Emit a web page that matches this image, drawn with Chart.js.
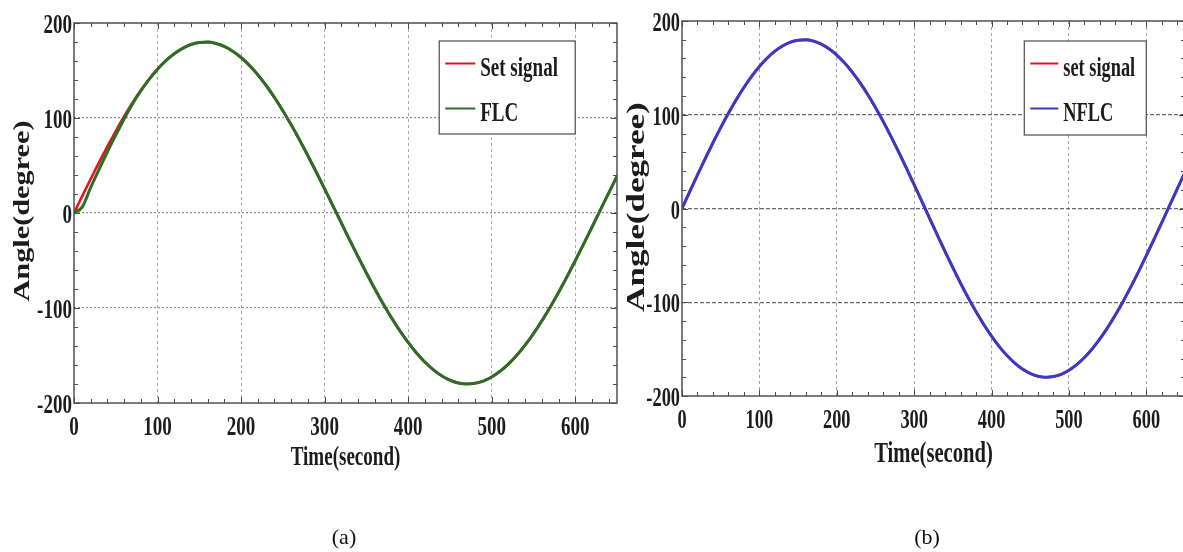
<!DOCTYPE html>
<html>
<head>
<meta charset="utf-8">
<title>Angle tracking: FLC vs NFLC</title>
<script src="https://cdn.jsdelivr.net/npm/chart.js@4.4.0/dist/chart.umd.min.js"></script>
<style>
  html, body { margin: 0; padding: 0; background: #fff; overflow: hidden; }
  body { width: 1183px; height: 552px; position: relative; }
  canvas { position: absolute; top: 0; }
  #chartA { left: 0; }
  #chartB { left: 620px; }
  .caption {
    position: absolute; top: 524px; line-height: 24px;
    font: 22px 'Liberation Serif', 'Times New Roman', serif; color: #111;
    transform: translateX(-50%);
  }
</style>
</head>
<body>
<canvas id="chartA" width="640" height="552"></canvas>
<canvas id="chartB" width="600" height="552"></canvas>
<div class="caption" style="left:344px">(a)</div>
<div class="caption" style="left:927px">(b)</div>

<script>
// time axis in seconds, one sample every 10 s
const timeSec = [0, 10, 20, 30, 40, 50, 60, 70, 80, 90, 100, 110, 120, 130, 140, 150, 160, 170, 180, 190,
  200, 210, 220, 230, 240, 250, 260, 270, 280, 290, 300, 310, 320, 330, 340, 350, 360, 370, 380, 390,
  400, 410, 420, 430, 440, 450, 460, 470, 480, 490, 500, 510, 520, 530, 540, 550, 560, 570, 580, 590,
  600, 610, 620, 630, 640, 650];

// reference angle (degree)
const setSignal = [0, 18.0, 35.8, 53.2, 70.1, 86.3, 101.6, 116.0, 129.1, 141.0, 151.5, 160.4, 167.8, 173.4,
  177.4, 179.5, 179.9, 178.5, 175.3, 170.3, 163.7, 155.4, 145.5, 134.2, 121.6, 107.7, 92.8, 76.9, 60.3,
  43.1, 25.4, 7.5, -10.5, -28.4, -46.0, -63.1, -79.7, -95.4, -110.1, -123.8, -136.2, -147.3, -156.9,
  -164.9, -171.3, -176.0, -178.9, -180.0, -179.3, -176.9, -172.6, -166.6, -159.0, -149.8, -139.1, -127.0,
  -113.6, -99.1, -83.6, -67.3, -50.3, -32.8, -15.0, 3.0, 21.0, 38.7];

// fuzzy controller output, lags a little at start-up
const flc = [0, 6.5, 27.0, 46.0, 64.5, 82.0, 99.0, 114.8, 128.5, 140.7, 151.3, 160.3, 167.7, 173.3,
  177.4, 179.5, 179.9, 178.5, 175.3, 170.3, 163.7, 155.4, 145.5, 134.2, 121.6, 107.7, 92.8, 76.9, 60.3,
  43.1, 25.4, 7.5, -10.5, -28.4, -46.0, -63.1, -79.7, -95.4, -110.1, -123.8, -136.2, -147.3, -156.9,
  -164.9, -171.3, -176.0, -178.9, -180.0, -179.3, -176.9, -172.6, -166.6, -159.0, -149.8, -139.1, -127.0,
  -113.6, -99.1, -83.6, -67.3, -50.3, -32.8, -15.0, 3.0, 21.0, 38.7];

// neuro-fuzzy controller output
const nflc = [0, 18.0, 35.8, 53.2, 70.1, 86.3, 101.6, 116.0, 129.1, 141.0, 151.5, 160.4, 167.8, 173.4,
  177.4, 179.5, 179.9, 178.5, 175.3, 170.3, 163.7, 155.4, 145.5, 134.2, 121.6, 107.7, 92.8, 76.9, 60.3,
  43.1, 25.4, 7.5, -10.5, -28.4, -46.0, -63.1, -79.7, -95.4, -110.1, -123.8, -136.2, -147.3, -156.9,
  -164.9, -171.3, -176.0, -178.9, -180.0, -179.3, -176.9, -172.6, -166.6, -159.0, -149.8, -139.1, -127.0,
  -113.6, -99.1, -83.6, -67.3, -50.3, -32.8, -15.0, 3.0, 21.0, 38.7];

const xTickLabels = [0, 100, 200, 300, 400, 500, 600];
const yTickLabels = [-200, -100, 0, 100, 200];

const FONT = '"Liberation Serif", "Times New Roman", serif';

function toPoints(values) {
  return timeSec.map((t, i) => ({ x: t, y: values[i] }));
}

// bold serif text, squeezed horizontally like the exported figure
function squeezed(ctx, text, x, y, size, sx, align) {
  ctx.save();
  ctx.translate(x, y);
  ctx.scale(sx, 1);
  ctx.font = 'bold ' + size + 'px ' + FONT;
  ctx.textAlign = align;
  ctx.textBaseline = 'alphabetic';
  ctx.fillStyle = '#1c1c1c';
  ctx.fillText(text, 0, 0);
  ctx.restore();
}

// frame, inward tick marks, labels, titles and boxed legend
const matlabAxes = {
  id: 'matlabAxes',
  afterDatasetsDraw(chart, args, o) {
    const { ctx, chartArea: a, scales: { x, y } } = chart;
    ctx.save();

    ctx.strokeStyle = '#4a4a4a';
    ctx.lineWidth = 1;
    ctx.beginPath();
    for (let v = x.min; v <= x.max; v += 20) {
      const px = Math.round(x.getPixelForValue(v)) + 0.5;
      const len = v % 100 === 0 ? 6 : 4;
      ctx.moveTo(px, a.bottom); ctx.lineTo(px, a.bottom - len);
      ctx.moveTo(px, a.top); ctx.lineTo(px, a.top + len);
    }
    for (let v = y.min; v <= y.max; v += 20) {
      const py = Math.round(y.getPixelForValue(v)) + 0.5;
      const len = v % 100 === 0 ? 6 : 4;
      ctx.moveTo(a.left, py); ctx.lineTo(a.left + len, py);
      ctx.moveTo(a.right, py); ctx.lineTo(a.right - len, py);
    }
    ctx.stroke();

    ctx.strokeStyle = o.frameColor;
    ctx.lineWidth = 1.5;
    ctx.strokeRect(a.left, a.top, a.right - a.left, a.bottom - a.top);

    xTickLabels.forEach(v => squeezed(ctx, String(v), x.getPixelForValue(v), a.bottom + 32, o.tickSize, 0.68, 'center'));
    yTickLabels.forEach(v => squeezed(ctx, String(v), a.left - 2, y.getPixelForValue(v) + 10, o.tickSize, 0.68, 'right'));

    squeezed(ctx, o.xTitle, (a.left + a.right) / 2, a.bottom + o.xTitleOffset, o.xTitleSize, o.xTitleSx, 'center');

    ctx.save();
    ctx.translate(o.yTitleX, o.yTitleY);
    ctx.rotate(-Math.PI / 2);
    ctx.scale(o.yTitleAlong, o.yTitleAcross);
    ctx.font = 'bold ' + o.yTitleSize + 'px ' + FONT;
    ctx.textAlign = 'center';
    ctx.textBaseline = 'alphabetic';
    ctx.fillStyle = '#1c1c1c';
    ctx.fillText(o.yTitle, 0, o.yTitleSize * 0.33);
    ctx.restore();

    // legend box, right edge on the 600 s grid line
    const boxRight = x.getPixelForValue(600);
    const boxLeft = boxRight - o.legendW;
    const boxTop = a.top + o.legendTop;
    ctx.fillStyle = '#fff';
    ctx.fillRect(boxLeft, boxTop, o.legendW, o.legendH);
    ctx.strokeStyle = '#5a5a5a';
    ctx.lineWidth = 1.3;
    ctx.strokeRect(boxLeft, boxTop, o.legendW, o.legendH);
    chart.data.datasets.forEach((ds, i) => {
      const ly = boxTop + 22.5 + 45 * i;
      ctx.strokeStyle = ds.borderColor;
      ctx.lineWidth = 2;
      ctx.beginPath();
      ctx.moveTo(boxLeft + 6, ly);
      ctx.lineTo(boxLeft + 6 + o.sampleLen, ly);
      ctx.stroke();
      squeezed(ctx, ds.label, boxLeft + 11 + o.sampleLen, ly + 12.5, o.tickSize, 0.68, 'left');
    });

    ctx.restore();
  }
};

function gridColor(edges, color) {
  return c => (c.tick && edges.includes(c.tick.value)) ? 'rgba(0,0,0,0)' : color;
}

function makeChart(id, datasets, padding, style, deco) {
  return new Chart(document.getElementById(id), {
    type: 'line',
    data: { datasets },
    plugins: [matlabAxes],
    options: {
      responsive: false,
      animation: false,
      devicePixelRatio: 1,
      layout: { padding },
      elements: { point: { radius: 0 }, line: { cubicInterpolationMode: 'monotone' } },
      plugins: { legend: { display: false }, tooltip: { enabled: false }, matlabAxes: deco },
      scales: {
        x: {
          type: 'linear', min: 0, max: 650,
          ticks: { display: false, stepSize: 100 },
          grid: { drawTicks: false, color: gridColor([0, 650], style.xGrid), lineWidth: 1 },
          border: { display: false, dash: style.xDash }
        },
        y: {
          type: 'linear', min: -200, max: 200,
          ticks: { display: false, stepSize: 100 },
          grid: { drawTicks: false, color: gridColor([-200, 200], style.yGrid), lineWidth: 1.2 },
          border: { display: false, dash: style.yDash }
        }
      }
    }
  });
}

makeChart('chartA', [
  { label: 'Set signal', data: toPoints(setSignal), borderColor: '#e3141c', borderWidth: 2.6, order: 1 },
  { label: 'FLC', data: toPoints(flc), borderColor: '#2b6e25', borderWidth: 3, order: 0 }
], { left: 74, right: 23, top: 23, bottom: 149 },
{ xGrid: '#a8a8a8', xDash: [3, 3], yGrid: '#8c8c8c', yDash: [2, 2] },
{
  frameColor: '#505050', tickSize: 28,
  xTitle: 'Time(second)', xTitleOffset: 62, xTitleSize: 27, xTitleSx: 0.705,
  yTitle: 'Angle(degree)', yTitleX: 21, yTitleY: 211, yTitleSize: 30, yTitleAlong: 1.01, yTitleAcross: 0.76,
  legendTop: 18, legendW: 136, legendH: 93, sampleLen: 30
});

makeChart('chartB', [
  { label: 'set signal', data: toPoints(setSignal), borderColor: '#e3141c', borderWidth: 2.6, order: 1 },
  { label: 'NFLC', data: toPoints(nflc), borderColor: '#3a3ac4', borderWidth: 3, order: 0 }
], { left: 62, right: 35, top: 21, bottom: 156 },
{ xGrid: '#a0a0a0', xDash: [3, 3], yGrid: '#6a6a6a', yDash: [4, 2] },
{
  frameColor: '#505050', tickSize: 27,
  xTitle: 'Time(second)', xTitleOffset: 66, xTitleSize: 30, xTitleSx: 0.687,
  yTitle: 'Angle(degree)', yTitleX: 16, yTitleY: 207, yTitleSize: 34, yTitleAlong: 1.03, yTitleAcross: 0.755,
  legendTop: 20, legendW: 122, legendH: 94, sampleLen: 28
});
</script>
</body>
</html>
